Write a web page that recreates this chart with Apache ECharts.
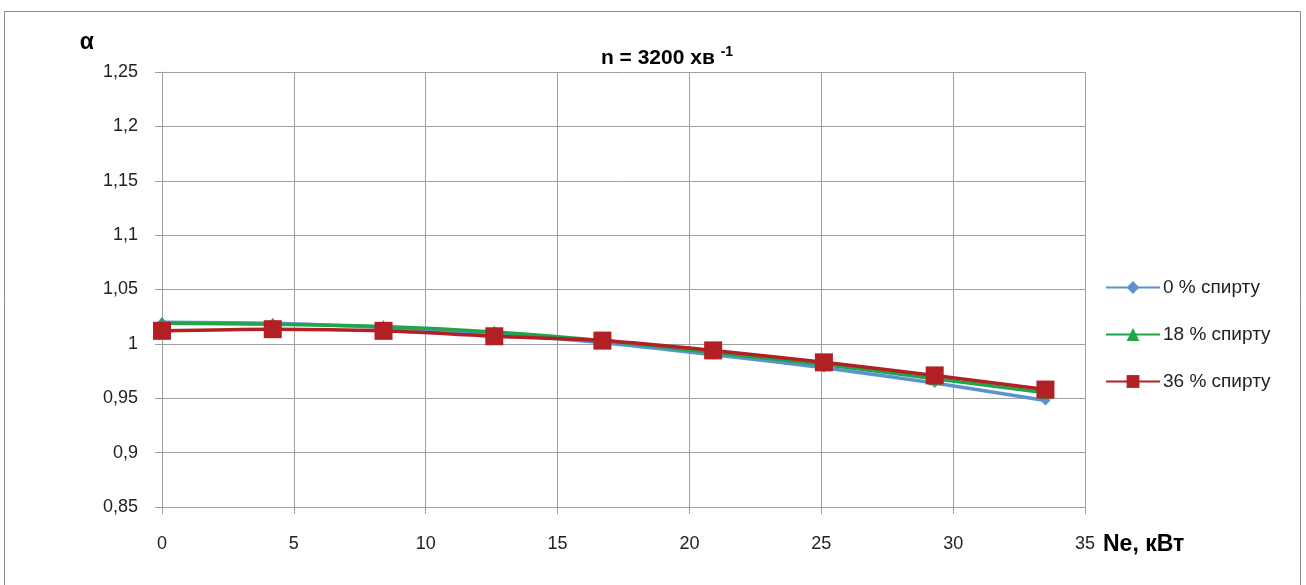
<!DOCTYPE html>
<html>
<head>
<meta charset="utf-8">
<script src="https://cdn.jsdelivr.net/npm/echarts@6/dist/echarts.min.js"></script>
<style>
html,body{margin:0;padding:0;background:#fff;}
#chart{width:1306px;height:585px;}
</style>
</head>
<body>
<div id="chart"></div>
<script>
// потужність Ne, кВт
const ne = [0, 4.2, 8.4, 12.6, 16.7, 20.9, 25.1, 29.3, 33.5]
// коефіцієнт надлишку повітря α
const alpha0 = [1.020, 1.019, 1.015, 1.009, 1.001, 0.990, 0.978, 0.964, 0.948]
const alpha18 = [1.019, 1.018, 1.016, 1.011, 1.003, 0.992, 0.981, 0.968, 0.955]
const alpha36 = [1.012, 1.0135, 1.012, 1.007, 1.003, 0.994, 0.983, 0.971, 0.958]
const seriesNames = ['0 % спирту', '18 % спирту', '36 % спирту']

const font = '"Liberation Sans Narrow", "Liberation Sans", sans-serif'
const chart = echarts.init(document.getElementById('chart'))

const pairs = arr => ne.map((x, i) => [x, arr[i]])

const option = {
    animation:false,
    textStyle:{fontFamily:font},
    graphic:[{
        type:'rect',
        shape:{x:4.5, y:11.5, width:1296, height:580},
        style:{fill:'none', stroke:'#8c8c8c', lineWidth:1}
    }],
    title:{
        text:'{b|n = 3200 хв }{s|-1}',
        left:662,
        top:40,
        textAlign:'center',
        textStyle:{
            rich:{
                b:{fontSize:21, fontWeight:'bold', fontFamily:font, color:'#000', verticalAlign:'bottom'},
                s:{fontSize:14, fontWeight:'bold', fontFamily:font, color:'#000', verticalAlign:'top', padding:[0,0,10,0]}
            }
        }
    },
    legend:{
        orient:'vertical',
        left:1100,
        top:273,
        itemGap:28,
        itemWidth:54,
        itemHeight:16,
        data:seriesNames,
        textStyle:{fontSize:19, color:'#222', fontFamily:font, padding:[0,0,0,-2]}
    },
    grid:{left:162, right:221, top:72, bottom:78},
    xAxis:{
        type:'value',
        min:0, max:35, interval:5,
        name:'Ne, кВт',
        nameLocation:'end',
        nameGap:18,
        nameTextStyle:{fontSize:23, fontWeight:'bold', color:'#000', verticalAlign:'top', padding:[26,0,0,0]},
        axisLine:{show:true, lineStyle:{color:'#a0a0a0'}},
        axisTick:{show:true, length:7, lineStyle:{color:'#a0a0a0'}},
        axisLabel:{fontSize:18, color:'#222', margin:28},
        splitLine:{show:true, lineStyle:{color:'#a0a0a0'}}
    },
    yAxis:{
        type:'value',
        min:0.85, max:1.25, interval:0.05,
        name:'α',
        nameLocation:'end',
        nameGap:18,
        nameTextStyle:{fontSize:23, fontWeight:'bold', color:'#000', align:'right', padding:[0,68,0,0]},
        axisLine:{show:true, lineStyle:{color:'#a0a0a0'}},
        axisTick:{show:true, length:7, lineStyle:{color:'#a0a0a0'}},
        axisLabel:{
            fontSize:18, color:'#222', margin:24,
            formatter:v => String(Math.round(v * 100) / 100).replace('.', ',')
        },
        splitLine:{show:true, lineStyle:{color:'#a0a0a0'}}
    },
    series:[
        {
            name:seriesNames[0],
            type:'line',
            smooth:0.3,
            data:pairs(alpha0),
            symbol:'diamond',
            symbolSize:10,
            itemStyle:{color:'#5b92d0'},
            lineStyle:{width:3.5, color:'#5b92d0'}
        },
        {
            name:seriesNames[1],
            type:'line',
            smooth:0.3,
            data:pairs(alpha18),
            symbol:'triangle',
            symbolSize:13,
            itemStyle:{color:'#1fa64a'},
            lineStyle:{width:3.5, color:'#1fa64a'}
        },
        {
            name:seriesNames[2],
            type:'line',
            smooth:0.3,
            data:pairs(alpha36),
            symbol:'rect',
            symbolSize:18,
            itemStyle:{color:'#b21f24'},
            lineStyle:{width:3.5, color:'#b21f24'}
        }
    ]
}
chart.setOption(option)
</script>
</body>
</html>
